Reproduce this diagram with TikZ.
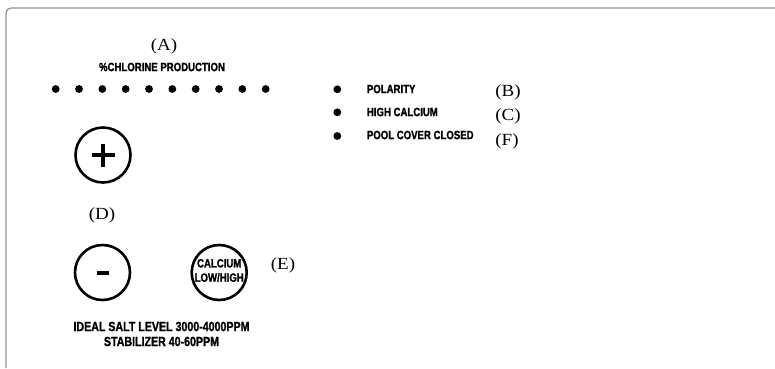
\documentclass[tikz,border=0pt]{standalone}
\usepackage{fontspec}
\newfontfamily\condfont[FakeStretch=0.8,BoldFeatures={FakeBold=1.3}]{Liberation Sans}
\newfontfamily\labfont[FakeStretch=1.12]{Liberation Serif}
\begin{document}
\begin{tikzpicture}[x=1pt,y=-1pt,
  lab/.style={inner sep=0pt,font=\labfont\fontsize{17}{17}\selectfont},
  panel/.style={inner sep=0pt,font=\condfont\bfseries\fontsize{12}{12}\selectfont},
  bigpanel/.style={inner sep=0pt,font=\condfont\bfseries\fontsize{13.3}{15}\selectfont,align=center},
  led/.style={circle,fill=black,inner sep=0pt,minimum size=7.8pt},
  btn/.style={circle,draw=black,line width=2.6pt,minimum size=55pt,inner sep=0pt},
  frame/.style={draw=gray!85,line width=1.2pt,rounded corners=5pt}]
\useasboundingbox (0,0) rectangle (775,368);
\draw[frame] (775,8) -- (6,8) -- (6,368);
% (A) and chlorine production
\node[lab] (A) at (164,46) {(A)};
\node[panel] (chl) at (162,67) {\%CHLORINE PRODUCTION};
\foreach \i in {0,...,9}{
  \node[led] (d\i) at ({55.7+23.33*\i},89) {};
}
% indicators
\node[led] (pol) at (337.3,89.3) {};
\node[led] (hcal) at (337.3,112.3) {};
\node[led] (pcc) at (337.3,136) {};
\node[panel,anchor=west] (polt) at (366.7,89) {POLARITY};
\node[panel,anchor=west] (hcalt) at (366.7,112) {HIGH CALCIUM};
\node[panel,anchor=west] (pcct) at (366.7,135) {POOL COVER CLOSED};
\node[lab] (B) at (508,92.2) {(B)};
\node[lab] (C) at (508,116.3) {(C)};
\node[lab] (F) at (507,141.7) {(F)};
% buttons
\node[btn] (plus) at (103,155) {};
\draw[line width=4pt] ([xshift=-11.5pt]plus.center) -- ([xshift=11.5pt]plus.center);
\draw[line width=4pt] ([yshift=-11.5pt]plus.center) -- ([yshift=11.5pt]plus.center);
\node[lab] (D) at (102,215.5) {(D)};
\node[btn] (minus) at (102.5,272.5) {};
\draw[line width=4pt] ([xshift=-6pt]minus.center) -- ([xshift=6pt]minus.center);
\node[btn] (calc) at (219.2,272.5) {};
\node[panel] (calct) at (219.2,263.3) {CALCIUM};
\node[panel] (calct2) at (219.2,277.5) {LOW/HIGH};
\node[lab] (E) at (283,265.8) {(E)};
\node[bigpanel] (salt) at (161.5,334) {IDEAL SALT LEVEL 3000-4000PPM\\STABILIZER 40-60PPM};
\end{tikzpicture}
\end{document}
